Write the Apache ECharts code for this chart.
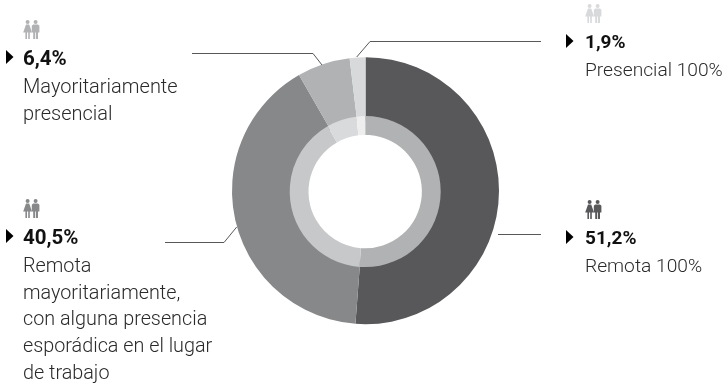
<!DOCTYPE html>
<html>
<head>
<meta charset="utf-8">
<style>html,body{margin:0;padding:0;background:#fff}#c{width:726px;height:383px}</style>
<script src="https://cdn.jsdelivr.net/npm/echarts@6/dist/echarts.min.js"></script>
</head>
<body>
<div id="c"></div>
<script>
// Share of work modality, clockwise from twelve o'clock
const categories = ['Remota 100%', 'Remota mayoritariamente', 'Mayoritariamente presencial', 'Presencial 100%'];
const values = [51.2, 40.5, 6.4, 1.9];
const outerColors = ['#58585a', '#87888a', '#b1b2b3', '#d8d9db'];
const innerColors = ['#b1b2b3', '#c7c8ca', '#d9dadc', '#eeeeef'];
const iconColors = ['#58585a', '#87888a', '#b1b2b3', '#d8d9db'];
const descriptions = [
  ['Remota 100%'],
  ['Remota', 'mayoritariamente,', 'con alguna presencia', 'esporádica en el lugar', 'de trabajo'],
  ['Mayoritariamente', 'presencial'],
  ['Presencial 100%']
];
// Block anchor (text left edge, top of the value line) and type sizes per category
const blocks = [[585, 229], [23, 228], [23, 49], [585, 33]];
const valueSizes = [19, 20.5, 20.5, 19];
const descSizes = [19.2, 19.8, 20, 19.2];
const leaders = [
  [[498, 234.5], [541, 234.5]],
  [[236.7, 227], [224, 242.5], [165, 242.5]],
  [[322, 65], [313, 53.5], [192, 53.5]],
  [[356.7, 57], [370, 41.5], [541, 41.5]]
];

const outerCenter = [365.5, 190.7];
const innerCenter = [365.2, 191.6];
const pieData = (colors) => categories.map((name, i) => ({ name, value: values[i], itemStyle: { color: colors[i] } }));

// Paired woman and man pictogram on a 17 x 19 grid
const iconHeads = [[4.6, 2], [12.6, 2]];
const iconBodies = [
  [[3, 4.6], [6.2, 4.6], [9, 12.4], [6.8, 12.4], [6.8, 19], [5.2, 19], [5.2, 12.4], [4, 12.4], [4, 19], [2.4, 19], [2.4, 12.4], [0.2, 12.4]],
  [[10.2, 4.6], [15, 4.6], [16.4, 5.8], [16.4, 12.4], [15, 12.4], [15, 19], [13, 19], [13, 12.6], [12.2, 12.6], [12.2, 19], [10.2, 19], [10.2, 12.4], [8.8, 12.4], [8.8, 5.8]]
];

const graphics = [];
const textFont = 'Roboto, sans-serif';
categories.forEach((_, i) => {
  const [x, y] = blocks[i];
  graphics.push({ type: 'polyline', silent: true, z: 5,
    shape: { points: leaders[i] },
    style: { stroke: '#58585a', lineWidth: 1, fill: null } });
  iconHeads.forEach(([hx, hy]) => graphics.push({ type: 'circle', silent: true, x, y: y - 29,
    shape: { cx: hx, cy: hy, r: 2 }, style: { fill: iconColors[i] } }));
  iconBodies.forEach((points) => graphics.push({ type: 'polygon', silent: true, x, y: y - 29,
    shape: { points }, style: { fill: iconColors[i] } }));
  const arrowX = x < 100 ? x - 17 : x - 19;
  graphics.push({ type: 'polygon', silent: true,
    shape: { points: [[arrowX, y + 1], [arrowX + 7.5, y + 8], [arrowX, y + 15]] },
    style: { fill: '#000' } });
  graphics.push({ type: 'text', silent: true,
    style: { x, y: y + (20.5 - valueSizes[i]) / 2, text: values[i].toFixed(1).replace('.', ',') + '%', fill: '#111',
      font: 'bold ' + valueSizes[i] + 'px ' + textFont } });
  descriptions[i].forEach((line, k) => {
    graphics.push({ type: 'text', silent: true,
      style: { x, y: y + 29 + k * 26.7, text: line, fill: '#2a2a2a',
        font: '300 ' + descSizes[i] + 'px ' + textFont } });
  });
});

const chart = echarts.init(document.getElementById('c'), null, { renderer: 'canvas' });
chart.setOption({
  animation: false,
  backgroundColor: '#fff',
  series: [
    { type: 'pie', center: outerCenter, radius: [70, 133.5], startAngle: 90, clockwise: true, silent: true,
      label: { show: false }, labelLine: { show: false }, data: pieData(outerColors) },
    { type: 'pie', center: innerCenter, radius: [56.7, 75.5], startAngle: 90, clockwise: true, silent: true,
      label: { show: false }, labelLine: { show: false }, data: pieData(innerColors) }
  ],
  graphic: graphics
});
</script>
</body>
</html>
